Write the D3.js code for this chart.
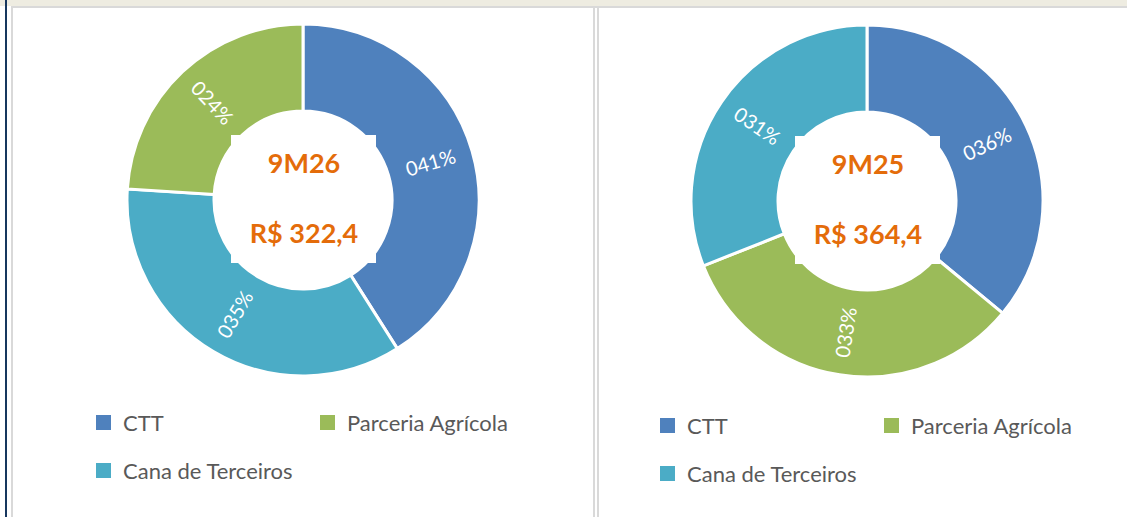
<!doctype html>
<html>
<head>
<meta charset="UTF-8" />
<script src="https://d3js.org/d3.v7.min.js"></script>
<style>
  body { margin: 0; background: #fff; }
  svg { display: block; }
  text { font-family: Lato, "Open Sans", sans-serif; }
</style>
</head>
<body>
<svg id="chart" width="1127" height="517"></svg>
<script>
  "use strict";

  // series, in the clockwise order each donut draws them
  const categories = ["CTT", "Parceria Agrícola", "Cana de Terceiros"];
  const colors = { "CTT": "#4F81BD", "Parceria Agrícola": "#9BBB59", "Cana de Terceiros": "#4BACC6" };

  const order26 = ["CTT", "Cana de Terceiros", "Parceria Agrícola"];
  const values26 = [41, 35, 24];
  const order25 = ["CTT", "Parceria Agrícola", "Cana de Terceiros"];
  const values25 = [36, 33, 31];

  const periods = ["9M26", "9M25"];
  const totals = ["R$ 322,4", "R$ 364,4"];

  const svg = d3.select("#chart");

  // frame: beige strip, navy rule, panel borders
  svg.append("rect").attr("x", 0).attr("y", 0).attr("width", 1127).attr("height", 6).attr("fill", "#EEECE1");
  svg.append("rect").attr("x", 12).attr("y", 6).attr("width", 1115).attr("height", 2).attr("fill", "#D9D9D9");
  svg.append("rect").attr("x", 5).attr("y", 0).attr("width", 2).attr("height", 517).attr("fill", "#17375E");
  svg.append("rect").attr("x", 11).attr("y", 6).attr("width", 2).attr("height", 511).attr("fill", "#D9D9D9");
  svg.append("rect").attr("x", 593).attr("y", 6).attr("width", 2).attr("height", 511).attr("fill", "#D9D9D9");
  svg.append("rect").attr("x", 597).attr("y", 6).attr("width", 2).attr("height", 511).attr("fill", "#D9D9D9");

  const panels = [
    { cx: 303, cy: 200, order: order26, values: values26, legendX: 96, legendY: 415 },
    { cx: 867, cy: 201, order: order25, values: values25, legendX: 660, legendY: 418 }
  ];

  const outerR = 176, innerR = 89, labelR = 133;
  const pie = d3.pie().sort(null).value(function (d) { return d.value; });
  const arc = d3.arc().innerRadius(innerR).outerRadius(outerR);
  const labelArc = d3.arc().innerRadius(labelR).outerRadius(labelR);

  panels.forEach(function (p, i) {
    const data = p.order.map(function (name, j) { return { name: name, value: p.values[j] }; });
    const g = svg.append("g").attr("transform", "translate(" + p.cx + "," + p.cy + ")");

    g.selectAll("path.slice")
      .data(pie(data))
      .enter().append("path")
      .attr("class", "slice")
      .attr("d", arc)
      .attr("fill", function (d) { return colors[d.data.name]; })
      .attr("stroke", "#fff")
      .attr("stroke-width", 3);

    // percent labels, set along the radius and kept upright
    g.selectAll("text.pct")
      .data(pie(data))
      .enter().append("text")
      .attr("class", "pct")
      .attr("transform", function (d) {
        const c = labelArc.centroid(d);
        const mid = (d.startAngle + d.endAngle) / 2;
        let deg = mid * 180 / Math.PI - 90;
        if (deg > 90) deg -= 180;
        if (deg < -90) deg += 180;
        return "translate(" + c[0] + "," + c[1] + ") rotate(" + deg + ")";
      })
      .attr("text-anchor", "middle")
      .attr("dy", "0.35em")
      .attr("fill", "#fff")
      .style("font-size", "20px")
      .text(function (d) { return "0" + d.data.value + "%"; });

    // white title box over the hole
    g.append("rect")
      .attr("x", -72).attr("y", -65)
      .attr("width", 145).attr("height", 128)
      .attr("fill", "#fff");

    g.append("text")
      .attr("x", 1).attr("y", -27)
      .attr("text-anchor", "middle")
      .attr("fill", "#E46C0A")
      .style("font-size", "27px").style("font-weight", "bold")
      .text(periods[i]);

    g.append("text")
      .attr("x", 1).attr("y", 43)
      .attr("text-anchor", "middle")
      .attr("fill", "#E46C0A")
      .style("font-size", "27px").style("font-weight", "bold")
      .text(totals[i]);

    // legend
    const legendPos = [[0, 0], [224, 0], [0, 48]];
    const leg = svg.append("g").attr("transform", "translate(" + p.legendX + "," + p.legendY + ")");
    categories.forEach(function (name, k) {
      const item = leg.append("g").attr("transform", "translate(" + legendPos[k][0] + "," + legendPos[k][1] + ")");
      item.append("rect").attr("width", 15).attr("height", 15).attr("fill", colors[name]);
      item.append("text")
        .attr("x", 27).attr("y", 16)
        .attr("fill", "#595959")
        .style("font-size", "22px")
        .text(name);
    });
  });
</script>
</body>
</html>
